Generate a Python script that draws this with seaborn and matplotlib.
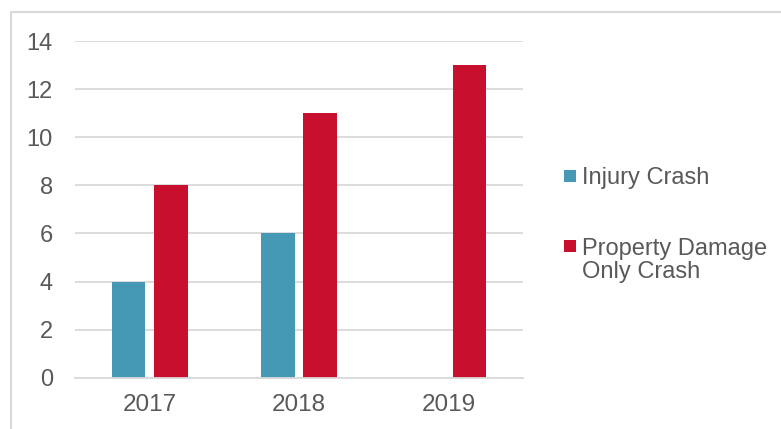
import matplotlib
matplotlib.use("Agg")
import matplotlib.pyplot as plt
import seaborn as sns
import pandas as pd
from matplotlib.lines import Line2D
from matplotlib.patches import Rectangle

years = ["2017", "2018", "2019"]
injury_crash = [4, 6, 0]
pdo_crash = [8, 11, 13]
series_names = ["Injury Crash", "Property Damage Only Crash"]
legend_labels = ["Injury Crash", "Property Damage\nOnly Crash"]
colors = ["#4599B5", "#C8102E"]
yticks = [0, 2, 4, 6, 8, 10, 12, 14]

df = pd.DataFrame({
    "Year": years * 2,
    "Series": [series_names[0]] * 3 + [series_names[1]] * 3,
    "Count": injury_crash + pdo_crash,
})

sns.set_theme(style="white")
plt.rcParams["font.family"] = ["Liberation Sans", "DejaVu Sans"]

W, H = 781, 429
fig = plt.figure(figsize=(W / 100, H / 100), dpi=100)
ax = fig.add_axes([75 / W, 1 - 377.7 / H, (523 - 75) / W, (377.7 - 41) / H])

sns.barplot(data=df, x="Year", y="Count", hue="Series", order=years,
            hue_order=series_names, palette=colors, width=0.571, gap=0.21,
            saturation=1, ax=ax, legend=False, linewidth=0)

ax.set_ylim(0, 14)
ax.set_yticks(yticks)
ax.set_xlim(-0.5, 2.5)
ax.set_xlabel("")
ax.set_ylabel("")
ax.yaxis.grid(True, color="#D9D9D9", linewidth=1.3)
ax.set_axisbelow(True)
for s in ["top", "right", "left"]:
    ax.spines[s].set_visible(False)
ax.spines["bottom"].set_color("#D9D9D9")
ax.spines["bottom"].set_linewidth(1.3)
ax.tick_params(axis="y", length=0, pad=16, labelsize=17, labelcolor="#595959")
ax.tick_params(axis="x", length=0, pad=12, labelsize=17.5, labelcolor="#595959")

# chart frame (left and top edges visible)
fig.add_artist(Line2D([10.5 / W, 10.5 / W], [0, 1 - 11.5 / H], transform=fig.transFigure,
                      color="#D9D9D9", linewidth=1.5))
fig.add_artist(Line2D([10.5 / W, 1], [1 - 11.5 / H, 1 - 11.5 / H], transform=fig.transFigure,
                      color="#D9D9D9", linewidth=1.5))

# legend
entries = [(legend_labels[0], colors[0], 170, 184.3), (legend_labels[1], colors[1], 240, 278)]
for label, c, ytop, base in entries:
    fig.add_artist(Rectangle((564 / W, 1 - (ytop + 12) / H), 12 / W, 12 / H,
                             transform=fig.transFigure, facecolor=c, edgecolor="none"))
    fig.text(581.5 / W, 1 - base / H, label, fontsize=17, color="#595959",
             ha="left", va="baseline", linespacing=1.06)

fig.savefig("out.png", dpi=100)
